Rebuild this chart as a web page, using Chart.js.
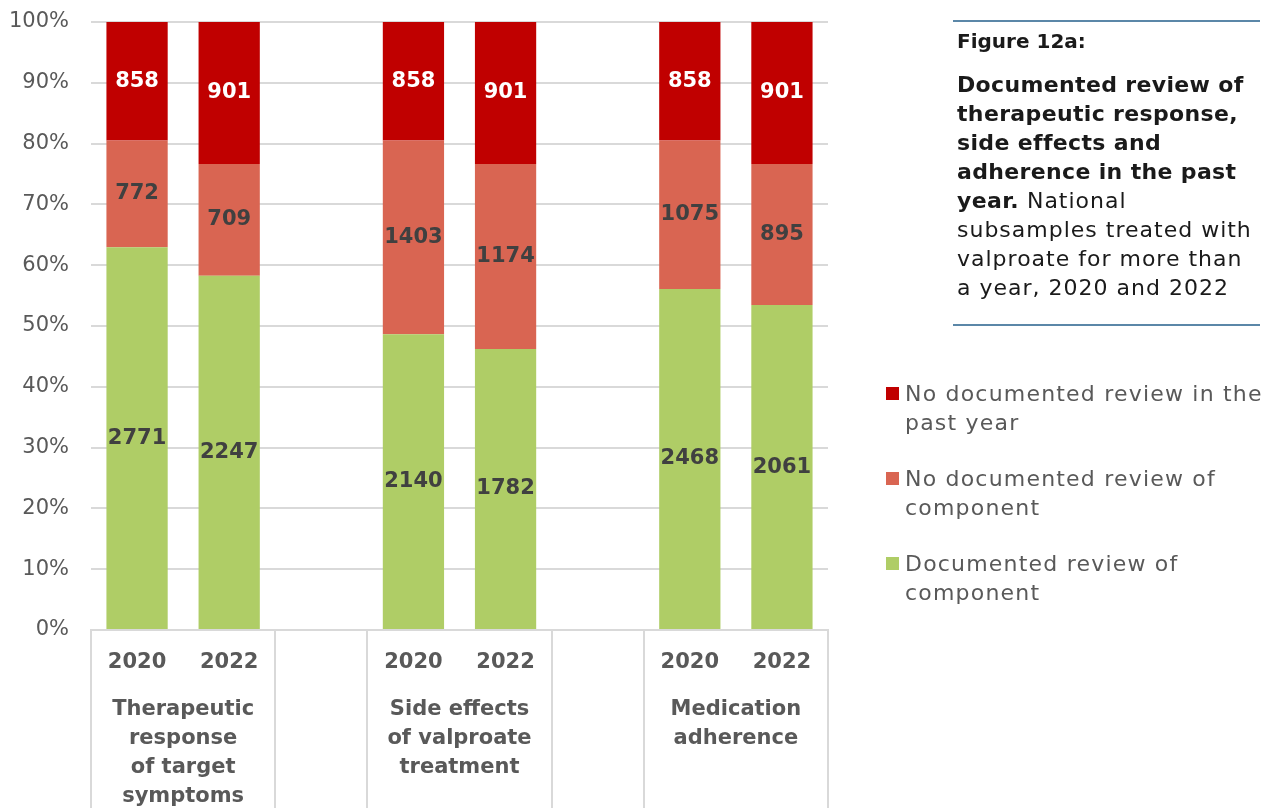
<!DOCTYPE html>
<html>
<head>
<meta charset="utf-8">
<script src="https://cdn.jsdelivr.net/npm/chart.js@4/dist/chart.umd.min.js"></script>
<style>
  html, body { margin: 0; padding: 0; background: #ffffff; }
  body { width: 1273px; height: 808px; position: relative; overflow: hidden; font-family: "DejaVu Sans", sans-serif; }
  #wrap { position: absolute; left: 0; top: 0; width: 1273px; height: 808px; }
  #title-box {
    position: absolute; left: 953px; top: 20px; width: 307px; height: 302px;
    border-top: 2px solid #5b87a8; border-bottom: 2px solid #5b87a8;
    color: #1a1a1a; font-size: 22px; line-height: 29px; white-space: nowrap; letter-spacing: 1px;
  }
  #title-box .fig { position: absolute; left: 4px; top: 5px; font-weight: bold; font-size: 20px; letter-spacing: 0; }
  #title-box .body { position: absolute; left: 4px; top: 48px; }
  #title-box b { font-weight: bold; letter-spacing: 0.35px; }
  #legend { position: absolute; left: 886px; top: 379px; color: #595959; font-size: 22px; line-height: 29px; white-space: nowrap; letter-spacing: 1.2px; }
  #legend .item { position: relative; padding-left: 19px; height: 58px; margin-bottom: 27px; }
  #legend .sw { position: absolute; left: 0; top: 8px; width: 13px; height: 13px; }
</style>
</head>
<body>
<div id="wrap"><canvas id="chart" width="1273" height="808"></canvas></div>
<div id="title-box">
  <div class="fig">Figure 12a:</div>
  <div class="body"><b>Documented review of<br>therapeutic response,<br>side effects and<br>adherence in the past<br>year.</b> National<br>subsamples treated with<br>valproate for more than<br>a year, 2020 and 2022</div>
</div>
<div id="legend"></div>
<script>
// Bar slots: two years per review component, with an empty slot between components
const categories = ['2020', '2022', '', '2020', '2022', '', '2020', '2022'];
const groupLabels = [
  ['Therapeutic', 'response', 'of target', 'symptoms'],
  ['Side effects', 'of valproate', 'treatment'],
  ['Medication', 'adherence']
];
const groupSlots = [[0, 1], [3, 4], [6, 7]];
const yTickValues = [0, 10, 20, 30, 40, 50, 60, 70, 80, 90, 100];

// Patient counts per category
const documentedReview   = [2771, 2247, null, 2140, 1782, null, 2468, 2061];
const noReviewComponent  = [772, 709, null, 1403, 1174, null, 1075, 895];
const noReviewPastYear   = [858, 901, null, 858, 901, null, 858, 901];

const seriesNames = [
  'Documented review of component',
  'No documented review of component',
  'No documented review in the past year'
];
const seriesColors = ['#afcd66', '#d96552', '#c00000'];
const labelColors = ['#404040', '#404040', '#ffffff'];

const countSeries = [documentedReview, noReviewComponent, noReviewPastYear];
const totals = categories.map((_, i) =>
  documentedReview[i] == null ? null : documentedReview[i] + noReviewComponent[i] + noReviewPastYear[i]);
const toPercent = arr => arr.map((v, i) => v == null ? null : v / totals[i] * 100);

const FONT = '"DejaVu Sans", sans-serif';
const GRID = '#d9d9d9';

// Draws each segment's count at the centre of the segment
const segmentLabels = {
  id: 'segmentLabels',
  afterDatasetsDraw(chart) {
    const ctx = chart.ctx;
    ctx.save();
    ctx.font = 'bold 21px ' + FONT;
    ctx.textAlign = 'center';
    ctx.textBaseline = 'middle';
    chart.data.datasets.forEach((ds, di) => {
      const meta = chart.getDatasetMeta(di);
      meta.data.forEach((bar, i) => {
        const count = ds.counts[i];
        if (count == null) return;
        ctx.fillStyle = ds.labelColor;
        ctx.fillText(String(count), bar.x, (bar.y + bar.base) / 2);
      });
    });
    ctx.restore();
  }
};

// Separators between component groups below the axis, and the group names
const groupAxis = {
  id: 'groupAxis',
  afterDraw(chart) {
    const ctx = chart.ctx;
    const xs = chart.scales.x;
    const half = (xs.getPixelForValue(1) - xs.getPixelForValue(0)) / 2;
    const top = chart.chartArea.bottom;
    const bottom = chart.height;
    ctx.save();
    ctx.strokeStyle = GRID;
    ctx.lineWidth = 2;
    groupSlots.forEach(([a, b]) => {
      [xs.getPixelForValue(a) - half, xs.getPixelForValue(b) + half].forEach(x => {
        ctx.beginPath();
        ctx.moveTo(Math.round(x), top);
        ctx.lineTo(Math.round(x), bottom);
        ctx.stroke();
      });
    });
    ctx.fillStyle = '#595959';
    ctx.font = 'bold 21px ' + FONT;
    ctx.textAlign = 'center';
    ctx.textBaseline = 'middle';
    groupSlots.forEach(([a, b], gi) => {
      const cx = (xs.getPixelForValue(a) + xs.getPixelForValue(b)) / 2;
      groupLabels[gi].forEach((line, li) => {
        ctx.fillText(line, cx, top + 80 + li * 29);
      });
    });
    ctx.restore();
  }
};

const chart = new Chart(document.getElementById('chart'), {
  type: 'bar',
  data: {
    labels: categories,
    datasets: [0, 1, 2].map(k => ({
      label: seriesNames[k],
      data: toPercent(countSeries[k]),
      counts: countSeries[k],
      backgroundColor: seriesColors[k],
      labelColor: labelColors[k],
      borderWidth: 0,
      categoryPercentage: 1,
      barPercentage: 0.665
    }))
  },
  options: {
    responsive: false,
    animation: false,
    layout: { padding: { top: 22, right: 445, left: 0, bottom: 0 } },
    plugins: { legend: { display: false }, tooltip: { enabled: false } },
    scales: {
      x: {
        stacked: true,
        grid: { display: false, drawTicks: false },
        border: { display: true, color: GRID, width: 2 },
        ticks: { color: '#595959', font: { family: FONT, size: 21, weight: 'bold' }, padding: 20, maxRotation: 0, autoSkip: false },
        afterFit(scale) { scale.height = 178; }
      },
      y: {
        stacked: true,
        min: 0,
        max: 100,
        afterBuildTicks(scale) { scale.ticks = yTickValues.map(v => ({ value: v })); },
        grid: { color: GRID, lineWidth: 2, drawTicks: false },
        border: { display: false },
        ticks: { color: '#595959', font: { family: FONT, size: 21 }, padding: 22, callback: v => v + '%' },
        afterFit(scale) {
          scale.width = 91;
          scale.paddingTop = 0;
          scale.paddingBottom = 0;
        }
      }
    }
  },
  plugins: [segmentLabels, groupAxis]
});

// Legend entries, top to bottom in stacking order
const legendEl = document.getElementById('legend');
const legendText = [
  ['No documented review in the', 'past year'],
  ['No documented review of', 'component'],
  ['Documented review of', 'component']
];
[2, 1, 0].forEach((k, n) => {
  const item = document.createElement('div');
  item.className = 'item';
  const sw = document.createElement('span');
  sw.className = 'sw';
  sw.style.background = chart.data.datasets[k].backgroundColor;
  item.appendChild(sw);
  const txt = document.createElement('div');
  txt.innerHTML = legendText[n].join('<br>');
  item.appendChild(txt);
  legendEl.appendChild(item);
});
</script>
</body>
</html>
